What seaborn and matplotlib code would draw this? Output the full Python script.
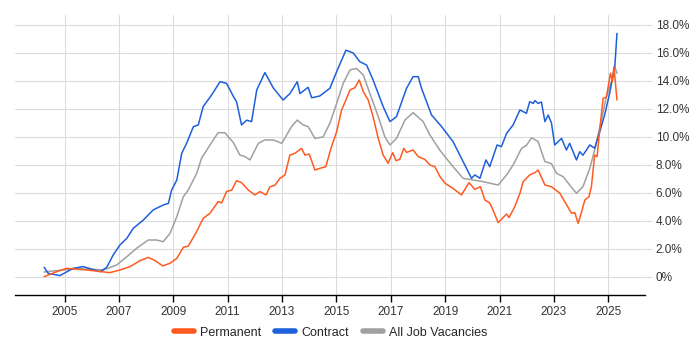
import numpy as np
import pandas as pd
import matplotlib
matplotlib.use("Agg")
import matplotlib.pyplot as plt
from matplotlib.ticker import FuncFormatter
from matplotlib.lines import Line2D
import seaborn as sns

# ── Data (share of job ads, %) ────────────────────────────────────────────────
perm_years = [2004.25, 2004.71, 2005.08, 2005.82, 2006.67, 2007.04, 2007.41, 2007.78,
              2008.08, 2008.33, 2008.61, 2008.88, 2009.13, 2009.37, 2009.55, 2009.86,
              2010.10, 2010.35, 2010.65, 2010.78, 2010.96, 2011.15, 2011.33, 2011.51,
              2011.76, 2012.00, 2012.19, 2012.41, 2012.56, 2012.74, 2012.92, 2013.11,
              2013.29, 2013.47, 2013.72, 2013.84, 2014.00, 2014.21, 2014.39, 2014.61,
              2014.82, 2015.01, 2015.19, 2015.35, 2015.50, 2015.68, 2015.84, 2015.99,
              2016.17, 2016.35, 2016.54, 2016.72, 2016.90, 2017.07, 2017.19, 2017.33,
              2017.48, 2017.58, 2017.82, 2018.01, 2018.25, 2018.44, 2018.62, 2018.81,
              2019.00, 2019.29, 2019.60, 2019.88, 2020.09, 2020.30, 2020.46, 2020.64,
              2020.76, 2020.95, 2021.26, 2021.35, 2021.56, 2021.75, 2021.87, 2022.11,
              2022.30, 2022.42, 2022.67, 2022.91, 2023.22, 2023.40, 2023.65, 2023.77,
              2023.89, 2024.01, 2024.14, 2024.29, 2024.38, 2024.50, 2024.59, 2024.69,
              2024.81, 2024.93, 2025.08, 2025.15, 2025.21, 2025.32]
perm_vals = [0.02, 0.38, 0.62, 0.50, 0.31, 0.50, 0.74, 1.17,
             1.40, 1.17, 0.79, 0.98, 1.33, 2.12, 2.20, 3.24,
             4.19, 4.55, 5.38, 5.30, 6.10, 6.21, 6.88, 6.74,
             6.21, 5.86, 6.10, 5.86, 6.45, 6.55, 7.05, 7.29,
             8.71, 8.83, 9.19, 8.71, 8.78, 7.64, 7.76, 7.88,
             9.31, 10.38, 11.93, 12.64, 13.36, 13.52, 14.07, 13.24,
             12.64, 11.45, 9.90, 8.71, 8.12, 8.88, 8.31, 8.40,
             9.19, 8.90, 9.07, 8.60, 8.40, 8.00, 7.88, 7.17,
             6.69, 6.33, 5.86, 6.74, 6.26, 6.45, 5.50, 5.29,
             4.79, 3.88, 4.50, 4.24, 5.02, 5.98, 6.81, 7.29,
             7.45, 7.64, 6.57, 6.45, 5.98, 5.38, 4.55, 4.60,
             3.83, 4.60, 5.50, 5.74, 6.45, 8.71, 8.60, 10.60,
             12.76, 12.83, 14.55, 13.95, 15.02, 12.64]

contract_years = [2004.25, 2004.40, 2004.83, 2005.32, 2005.69, 2006.31, 2006.55, 2006.79,
                  2007.04, 2007.29, 2007.53, 2007.90, 2008.26, 2008.63, 2008.82, 2008.94,
                  2009.13, 2009.31, 2009.49, 2009.74, 2009.92, 2010.10, 2010.41, 2010.72,
                  2010.96, 2011.21, 2011.33, 2011.51, 2011.70, 2011.88, 2012.07, 2012.37,
                  2012.68, 2013.04, 2013.29, 2013.56, 2013.66, 2013.96, 2014.09, 2014.39,
                  2014.76, 2015.01, 2015.35, 2015.62, 2015.86, 2016.11, 2016.35, 2016.72,
                  2016.97, 2017.21, 2017.58, 2017.82, 2018.01, 2018.13, 2018.50, 2018.87,
                  2019.29, 2019.66, 2019.97, 2020.09, 2020.28, 2020.50, 2020.64, 2020.91,
                  2021.07, 2021.26, 2021.50, 2021.75, 2021.99, 2022.11, 2022.24, 2022.30,
                  2022.42, 2022.54, 2022.67, 2022.79, 2022.91, 2023.03, 2023.28, 2023.46,
                  2023.58, 2023.83, 2023.95, 2024.07, 2024.32, 2024.50, 2024.69, 2024.87,
                  2025.06, 2025.18, 2025.24, 2025.32]
contract_vals = [0.69, 0.26, 0.10, 0.62, 0.74, 0.38, 0.69, 1.57,
                 2.29, 2.76, 3.48, 4.07, 4.79, 5.14, 5.26, 6.21,
                 6.93, 8.83, 9.55, 10.74, 10.86, 12.17, 13.00, 13.95,
                 13.83, 12.90, 12.50, 10.86, 11.20, 11.10, 13.36, 14.60,
                 13.50, 12.64, 13.10, 13.95, 13.10, 13.55, 12.80, 12.93,
                 13.48, 14.67, 16.20, 16.00, 15.38, 15.14, 14.07, 12.17,
                 11.10, 11.45, 13.48, 14.31, 14.31, 13.48, 11.57, 10.74,
                 9.67, 8.24, 7.05, 7.29, 7.05, 8.36, 7.88, 9.43,
                 9.31, 10.26, 10.86, 11.93, 11.69, 12.52, 12.40, 12.60,
                 12.40, 12.50, 11.10, 11.57, 11.00, 9.43, 9.90, 9.07,
                 9.55, 8.36, 8.95, 8.70, 9.43, 9.20, 10.40, 11.60,
                 13.20, 14.50, 15.00, 17.40]

all_years = [2004.25, 2004.96, 2005.45, 2006.43, 2006.92, 2007.29, 2007.65, 2008.08,
             2008.39, 2008.63, 2008.88, 2009.13, 2009.37, 2009.55, 2009.86, 2010.04,
             2010.35, 2010.65, 2010.90, 2011.21, 2011.45, 2011.64, 2011.82, 2012.13,
             2012.37, 2012.68, 2012.99, 2013.17, 2013.35, 2013.56, 2013.78, 2013.96,
             2014.21, 2014.51, 2014.76, 2015.01, 2015.25, 2015.50, 2015.74, 2015.99,
             2016.23, 2016.54, 2016.78, 2016.97, 2017.21, 2017.52, 2017.82, 2018.19,
             2018.44, 2018.80, 2019.29, 2019.66, 2020.03, 2020.40, 2020.64, 2020.95,
             2021.26, 2021.50, 2021.81, 2021.99, 2022.18, 2022.42, 2022.67, 2022.91,
             2023.10, 2023.34, 2023.58, 2023.83, 2024.07, 2024.32, 2024.50, 2024.75,
             2024.93, 2025.18, 2025.24, 2025.32]
all_vals = [0.36, 0.50, 0.60, 0.50, 0.86, 1.45, 2.05, 2.64,
            2.64, 2.52, 3.12, 4.31, 5.74, 6.21, 7.40, 8.48,
            9.43, 10.31, 10.30, 9.60, 8.71, 8.60, 8.36, 9.55,
            9.79, 9.79, 9.55, 10.14, 10.74, 11.21, 10.86, 10.74,
            9.90, 10.00, 10.98, 12.40, 13.83, 14.79, 14.90, 14.43,
            13.12, 11.45, 10.02, 9.43, 9.90, 11.21, 11.74, 11.10,
            10.14, 9.07, 7.88, 7.05, 6.93, 6.81, 6.70, 6.57,
            7.29, 8.00, 9.19, 9.40, 9.95, 9.67, 8.24, 8.10,
            7.40, 7.17, 6.57, 5.98, 6.45, 7.76, 9.07, 11.21,
            12.88, 14.31, 15.00, 14.55]

series_names = ["Permanent", "Contract", "All Job Vacancies"]
PALETTE = {
    "Permanent":         "#FF5A1F",   # orange
    "Contract":          "#1E5FDC",   # blue
    "All Job Vacancies": "#A0A0A0",   # gray
}
year_ticks = list(range(2005, 2026, 2))
pct_ticks = list(range(0, 19, 2))

df = pd.concat([
    pd.DataFrame({"year": perm_years, "share": perm_vals, "series": "Permanent"}),
    pd.DataFrame({"year": contract_years, "share": contract_vals, "series": "Contract"}),
    pd.DataFrame({"year": all_years, "share": all_vals, "series": "All Job Vacancies"}),
], ignore_index=True)

# ── Style ─────────────────────────────────────────────────────────────────────
sns.set_theme(style="whitegrid")
plt.rcParams["font.family"] = ["Liberation Sans", "DejaVu Sans"]

fig = plt.figure(figsize=(7, 3.5), dpi=100)
ax = fig.add_axes([0.0215, 0.157, 0.8995, 0.8])

sns.lineplot(data=df, x="year", y="share", hue="series", hue_order=series_names,
             palette=PALETTE, lw=1.1, estimator=None, sort=True, legend=False, ax=ax)

# gray underneath, orange on top
for line, z in zip(ax.lines, [4, 3, 2]):
    line.set_zorder(z)

ax.set_xlim(2003.18, 2026.34)
ax.set_ylim(-1.29, 18.71)
ax.set_xticks(year_ticks)
ax.set_yticks(pct_ticks)
ax.yaxis.set_major_formatter(FuncFormatter(lambda v, _: "0%" if v == 0 else f"{v:.1f}%"))
ax.yaxis.tick_right()
ax.set_xlabel("")
ax.set_ylabel("")

ax.grid(True, color="#DCDCDC", lw=0.8)
for side in ["top", "left", "right"]:
    ax.spines[side].set_visible(False)
ax.spines["bottom"].set_color("black")
ax.spines["bottom"].set_linewidth(1.0)

ax.tick_params(axis="x", bottom=True, length=5, width=1, color="black",
               labelsize=8.5, labelcolor="#333333", pad=3)
ax.tick_params(axis="y", right=True, length=5, width=0.8, color="#DCDCDC",
               labelsize=8.5, labelcolor="#333333", pad=3)

handles = [Line2D([0], [0], color=PALETTE[n], lw=4) for n in series_names]
fig.legend(handles, series_names, loc="lower center", bbox_to_anchor=(0.472, 0.0),
           ncol=3, frameon=False, fontsize=9, handlelength=1.6, columnspacing=1.1,
           handletextpad=0.5)

fig.savefig("out.png", dpi=100)
